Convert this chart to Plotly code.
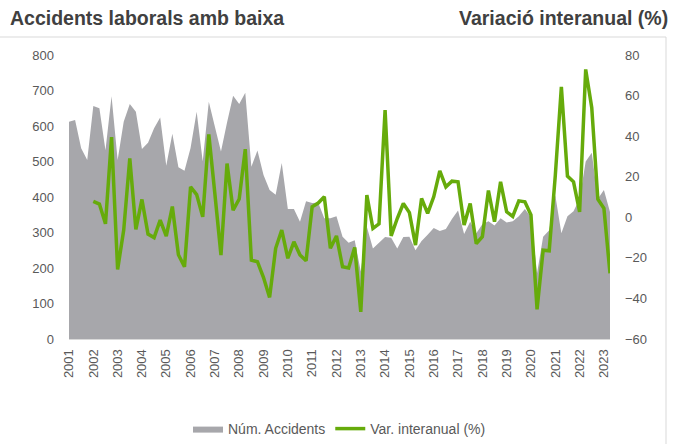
import plotly.graph_objects as go

years = [str(y) for y in range(2001, 2024)]

# Quarterly number of work accidents with sick leave (2001Q1 .. 2023Q2)
accidents = [612, 617, 537, 504,
             656, 650, 532, 684,
             504, 612, 662, 640,
             535, 553, 594, 624,
             488, 578, 484, 474,
             538, 640, 500, 668,
             598, 528, 610, 685,
             662, 694, 485, 531,
             462, 420, 406, 496,
             366, 366, 330, 388,
             383, 384, 340, 340,
             346, 288, 271, 278,
             190, 316, 255, 271,
             287, 285, 255, 287,
             288, 250, 276, 294,
             313, 304, 310, 338,
             362, 296, 330, 298,
             323, 332, 320, 340,
             328, 332, 346, 366,
             343, 185, 288, 306,
             405, 298, 346, 360,
             395, 500, 525, 395,
             420, 358]

# Year-on-year change (%) (2002Q1 .. 2023Q2)
variation = [7.8, 6.5, -3.2, 39.5,
             -25.7, -6.3, 29.0, -6.0,
             8.8, -8.3, -10.0, -1.4,
             -9.3, 5.3, -18.5, -24.4,
             15.0, 11.2, 0.2, 40.9,
             11.5, -18.6, 26.5, 3.5,
             9.0, 33.6, -21.1, -21.9,
             -29.7, -39.5, -15.3, -6.3,
             -20.2, -12.1, -18.6, -21.4,
             5.2, 7.0, 10.1, -15.3,
             -9.2, -24.4, -25.0, -14.9,
             -46.6, 10.9, -5.5, -3.2,
             52.8, -9.2, -0.6, 6.8,
             2.3, -13.7, 9.3, 1.9,
             10.1, 22.9, 15.0, 17.8,
             17.5, -3.8, 6.8, -13.0,
             -9.6, 13.2, -2.2, 17.5,
             2.7, 0.4, 8.1, 7.6,
             1.1, -45.4, -16.2, -16.5,
             20.5, 64.3, 20.3, 17.5,
             2.7, 72.9, 54.0, 8.9,
             4.4, -27.6]

n = len(accidents)
x_all = list(range(n))
x_var = list(range(n - len(variation), n))

GRAY = "#A7A7AB"
GREEN = "#66AB0B"
TXT = "#595959"
FONT = "Liberation Sans Narrow, Arial Narrow, Liberation Sans, Arial, sans-serif"
TFONT = "Liberation Sans, Arial, sans-serif"

fig = go.Figure()
fig.add_trace(go.Scatter(
    x=x_all, y=accidents, name="Núm. Accidents", mode="lines",
    line=dict(width=0, color=GRAY), fill="tozeroy", fillcolor=GRAY,
    yaxis="y"))
fig.add_trace(go.Scatter(
    x=x_var, y=variation, name="Var. interanual (%)", mode="lines",
    line=dict(width=3.5, color=GREEN), yaxis="y2"))

fig.update_layout(
    width=682, height=444, autosize=False,
    margin=dict(l=69, r=72, t=55, b=105, autoexpand=False),
    paper_bgcolor="white", plot_bgcolor="white",
    font=dict(family=FONT, size=13, color=TXT),
    showlegend=True,
    legend=dict(orientation="h", x=0.5, xanchor="center",
                yref="container", y=1 - 429 / 444, yanchor="middle",
                font=dict(size=14, color=TXT), itemwidth=30, tracegroupgap=0),
    xaxis=dict(range=[0, n - 1], tickvals=list(range(0, n, 4)), ticktext=years,
               tickangle=-90, showgrid=False, zeroline=False,
               showline=True, linecolor="#d9d9d9", linewidth=1,
               tickfont=dict(size=13, color=TXT), ticks="", ticklabelstandoff=4),
    yaxis=dict(range=[0, 800], dtick=100, showgrid=False, zeroline=False,
               showline=False, tickfont=dict(size=13, color=TXT),
               ticklabelstandoff=14),
    yaxis2=dict(range=[-60, 80], dtick=20, overlaying="y", side="right",
                showgrid=False, zeroline=False, showline=False,
                tickfont=dict(size=13, color=TXT), ticklabelstandoff=14),
    annotations=[
        dict(text="<b>Accidents laborals amb baixa</b>", xref="paper", yref="paper",
             x=(8 - 69) / 541, y=(339 - 18) / 284, xanchor="left", yanchor="middle",
             showarrow=False, font=dict(family=TFONT, size=19.5, color="#404040")),
        dict(text="<b>Variació interanual (%)</b>", xref="paper", yref="paper",
             x=(670 - 69) / 541, y=(339 - 18) / 284, xanchor="right", yanchor="middle",
             showarrow=False, font=dict(family=TFONT, size=19.5, color="#404040")),
    ],
    shapes=[
        dict(type="line", xref="paper", yref="paper",
             x0=-0.2, x1=(666 - 69) / 541, y0=(339 - 37) / 284, y1=(339 - 37) / 284,
             line=dict(color="#d9d9d9", width=1)),
        dict(type="line", xref="paper", yref="paper",
             x0=(666 - 69) / 541, x1=(666 - 69) / 541, y0=(339 - 37) / 284, y1=(339 - 450) / 284,
             line=dict(color="#d9d9d9", width=1)),
    ],
)

fig.write_html("out.html", config={"displayModeBar": False},
               post_script="document.body.style.margin='0';")
